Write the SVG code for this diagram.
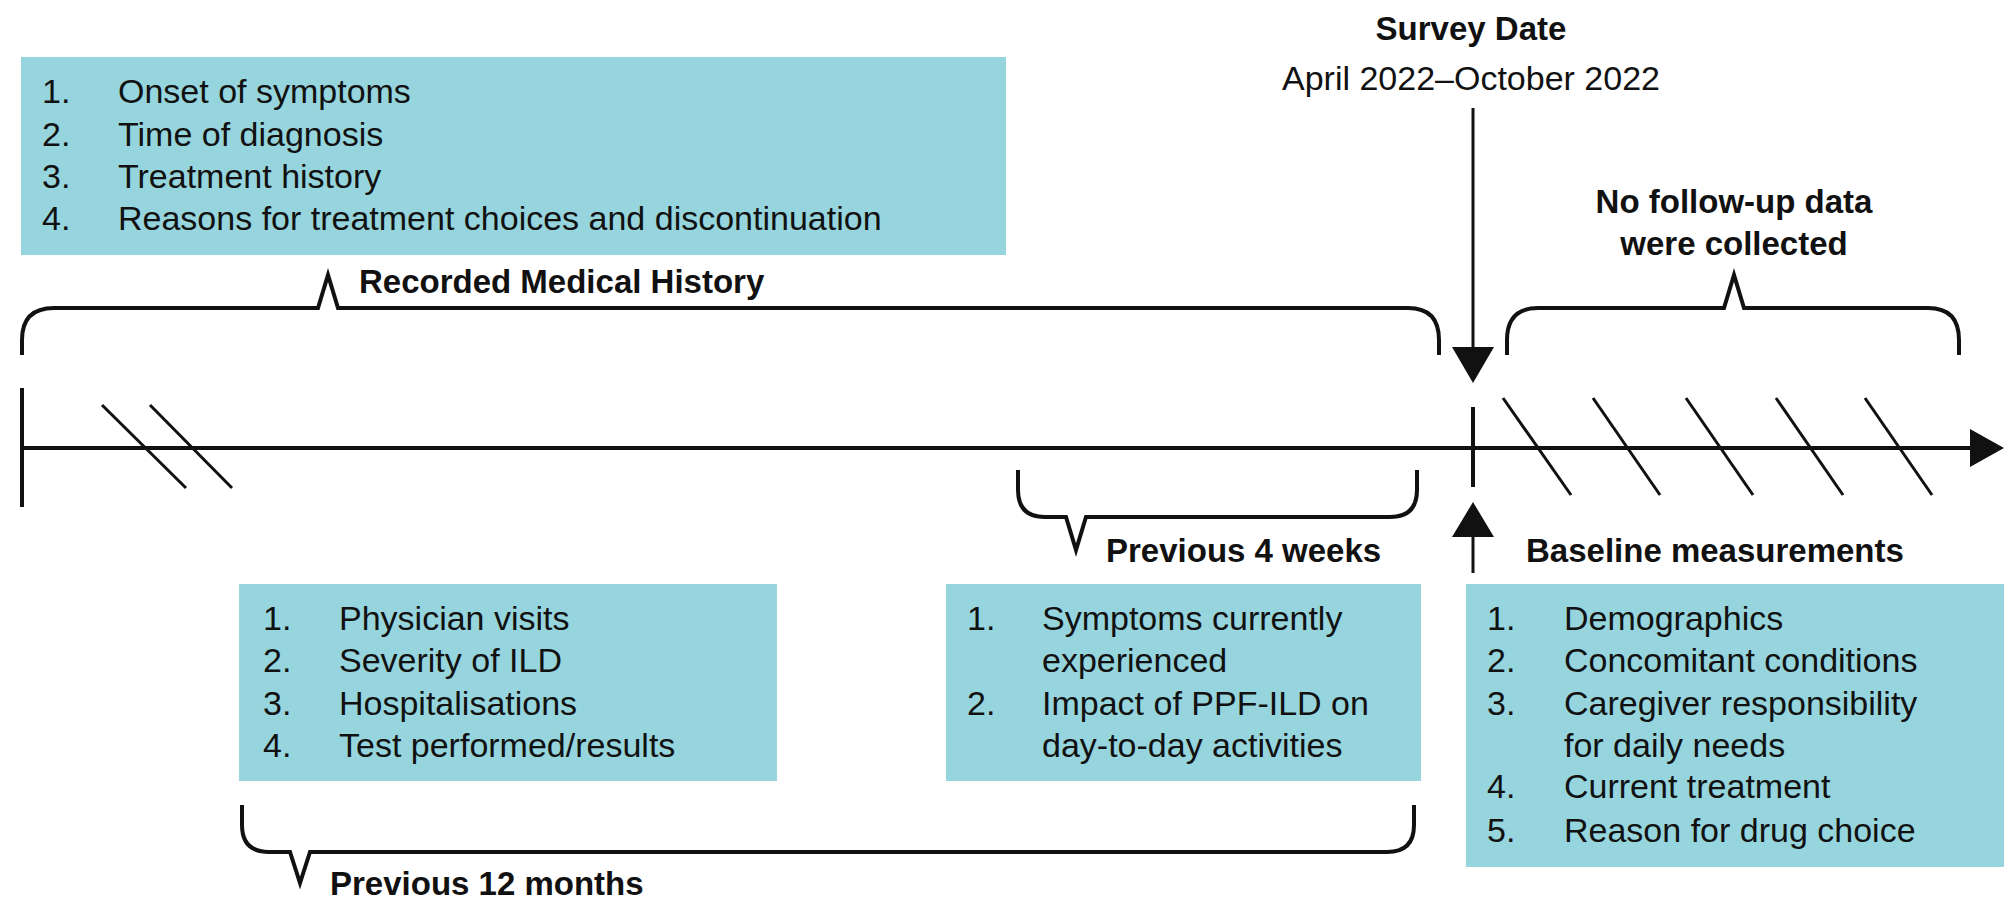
<svg xmlns="http://www.w3.org/2000/svg" width="2008" height="910" viewBox="0 0 2008 910">
<style>
.box{fill:#96d5dd}
.t{font-family:"Liberation Sans",Arial,sans-serif;font-size:34px;fill:#111}
.b{font-family:"Liberation Sans",Arial,sans-serif;font-size:33px;font-weight:bold;fill:#111}
.ln{fill:none;stroke:#111;stroke-width:4}
.th{fill:none;stroke:#111;stroke-width:3}
</style>
<rect width="2008" height="910" fill="#fff"/>
<g id="box-history">
<rect class="box" x="21" y="57" width="985" height="198"/>
<text class="t" x="42" y="103">1.</text><text class="t" x="118" y="103">Onset of symptoms</text>
<text class="t" x="42" y="146">2.</text><text class="t" x="118" y="146">Time of diagnosis</text>
<text class="t" x="42" y="188">3.</text><text class="t" x="118" y="188">Treatment history</text>
<text class="t" x="42" y="230">4.</text><text class="t" x="118" y="230">Reasons for treatment choices and discontinuation</text>
</g>
<g id="box-12months">
<rect class="box" x="239" y="584" width="538" height="197"/>
<text class="t" x="263" y="630">1.</text><text class="t" x="339" y="630">Physician visits</text>
<text class="t" x="263" y="672">2.</text><text class="t" x="339" y="672">Severity of ILD</text>
<text class="t" x="263" y="715">3.</text><text class="t" x="339" y="715">Hospitalisations</text>
<text class="t" x="263" y="757">4.</text><text class="t" x="339" y="757">Test performed/results</text>
</g>
<g id="box-4weeks">
<rect class="box" x="946" y="584" width="475" height="197"/>
<text class="t" x="967" y="630">1.</text><text class="t" x="1042" y="630">Symptoms currently</text>
<text class="t" x="1042" y="672">experienced</text>
<text class="t" x="967" y="715">2.</text><text class="t" x="1042" y="715">Impact of PPF-ILD on</text>
<text class="t" x="1042" y="757">day-to-day activities</text>
</g>
<g id="box-baseline">
<rect class="box" x="1466" y="584" width="538" height="283"/>
<text class="t" x="1487" y="630">1.</text><text class="t" x="1564" y="630">Demographics</text>
<text class="t" x="1487" y="672">2.</text><text class="t" x="1564" y="672">Concomitant conditions</text>
<text class="t" x="1487" y="715">3.</text><text class="t" x="1564" y="715">Caregiver responsibility</text>
<text class="t" x="1564" y="757">for daily needs</text>
<text class="t" x="1487" y="798">4.</text><text class="t" x="1564" y="798">Current treatment</text>
<text class="t" x="1487" y="842">5.</text><text class="t" x="1564" y="842">Reason for drug choice</text>
</g>
<g id="labels">
<text class="b" x="359" y="293">Recorded Medical History</text>
<text class="b" x="1471" y="40" text-anchor="middle">Survey Date</text>
<text class="t" x="1471" y="90" text-anchor="middle">April 2022–October 2022</text>
<text class="b" x="1734" y="213" text-anchor="middle">No follow-up data</text>
<text class="b" x="1734" y="255" text-anchor="middle">were collected</text>
<text class="b" x="1106" y="562">Previous 4 weeks</text>
<text class="b" x="1526" y="562">Baseline measurements</text>
<text class="b" x="330" y="895">Previous 12 months</text>
</g>
<g id="connectors">
<path class="ln" d="M22,355 L22,340 Q22,308 54,308 L318,308 L328,275 L338,308 L1408,308 Q1439,308 1439,340 L1439,355"/>
<path class="ln" d="M1507,355 L1507,340 Q1507,308 1538,308 L1724,308 L1734,275 L1744,308 L1928,308 Q1959,308 1959,340 L1959,355"/>
<path class="ln" d="M1018,470 L1018,490 Q1018,517 1045,517 L1066,517 L1076,550 L1086,517 L1390,517 Q1417,517 1417,490 L1417,470"/>
<path class="ln" d="M242,805 L242,825 Q242,852 269,852 L290,852 L300,883 L310,852 L1387,852 Q1414,852 1414,825 L1414,805"/>
<line class="ln" x1="22" y1="448" x2="1975" y2="448"/>
<polygon points="1970,429 2004,448 1970,467" fill="#111"/>
<line class="ln" x1="22" y1="388" x2="22" y2="507"/>
<line class="th" x1="102" y1="405" x2="186" y2="488"/>
<line class="th" x1="150" y1="405" x2="232" y2="488"/>
<line class="th" x1="1503" y1="398" x2="1571" y2="495"/>
<line class="th" x1="1593" y1="398" x2="1660" y2="495"/>
<line class="th" x1="1686" y1="398" x2="1753" y2="495"/>
<line class="th" x1="1776" y1="398" x2="1843" y2="495"/>
<line class="th" x1="1865" y1="398" x2="1932" y2="495"/>
<line class="ln" x1="1473" y1="407" x2="1473" y2="487"/>
<line class="th" x1="1473" y1="108" x2="1473" y2="350"/>
<polygon points="1452,347 1494,347 1473,383" fill="#111"/>
<line class="th" x1="1473" y1="535" x2="1473" y2="573"/>
<polygon points="1452,537 1494,537 1473,502" fill="#111"/>
</g>
</svg>
